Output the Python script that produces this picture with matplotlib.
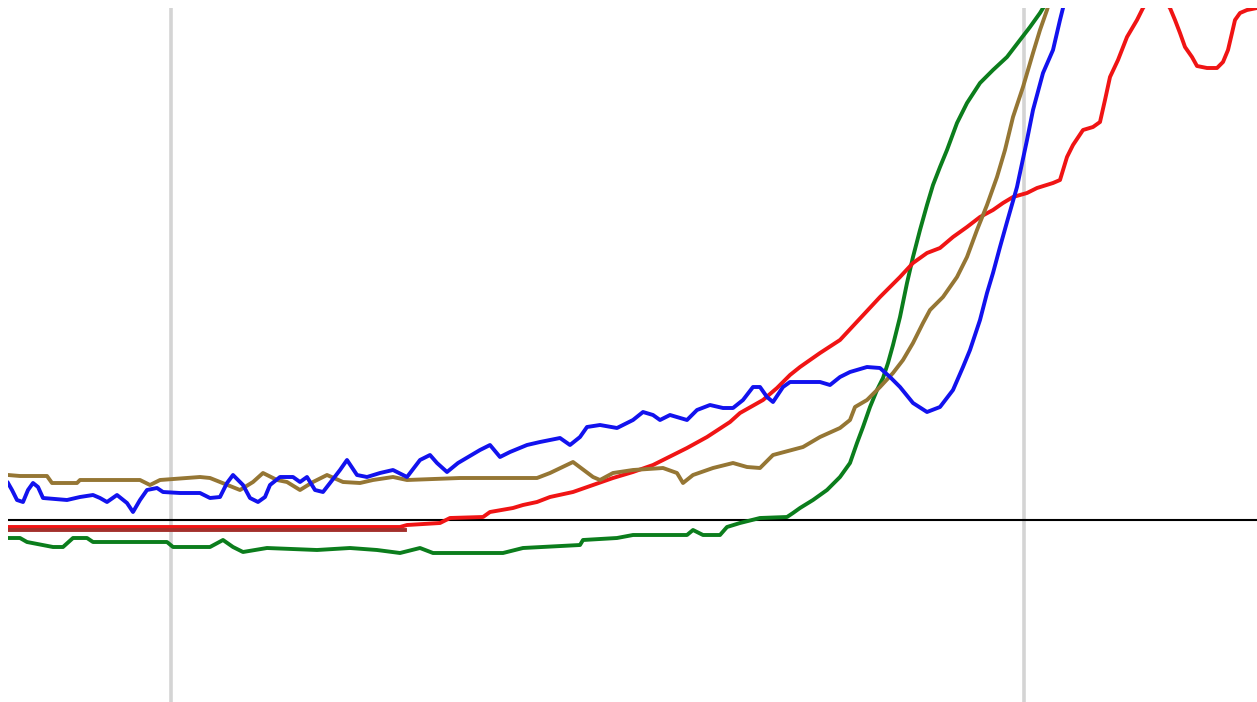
import matplotlib
matplotlib.use("Agg")
import matplotlib.pyplot as plt

# Series samples (x position, value relative to baseline)
blue_x = [8, 12, 17, 23, 28, 33, 38, 43, 67, 80, 93, 100, 107, 117, 127, 133, 140, 147, 157, 163,
          180, 200, 210, 220, 227, 233, 243, 250, 258, 265, 270, 280, 293, 300, 307, 315, 323, 330,
          340, 347, 357, 367, 380, 393, 407, 420, 430, 437, 447, 458, 480, 490, 500, 510, 527, 540,
          560, 570, 580, 587, 600, 617, 633, 643, 653, 660, 670, 687, 697, 710, 723, 733, 743, 753,
          760, 767, 773, 783, 790, 820, 830, 840, 850, 867, 880, 890, 900, 913, 927, 940, 953, 963,
          970, 980, 987, 993, 1000, 1007, 1017, 1027, 1033, 1043, 1053, 1060, 1065]
blue_y = [37, 30, 20, 18, 30, 37, 33, 22, 20, 23, 25, 22, 18, 25, 17, 8, 20, 30, 32, 28,
          27, 27, 22, 23, 37, 45, 35, 22, 18, 23, 35, 43, 43, 38, 43, 30, 28, 37,
          50, 60, 45, 43, 47, 50, 43, 60, 65, 57, 48, 57, 70, 75, 63, 68, 75, 78,
          82, 75, 83, 93, 95, 92, 100, 108, 105, 100, 105, 100, 110, 115, 112, 112, 120, 133,
          133, 123, 118, 133, 138, 138, 135, 143, 148, 153, 152, 143, 133, 117, 108, 113, 130, 153,
          170, 200, 227, 247, 273, 298, 333, 380, 410, 447, 470, 500, 520]

brown_x = [8, 20, 47, 52, 77, 80, 140, 150, 160, 200, 210, 240, 253, 263, 277, 287, 300, 313, 327,
           343, 360, 373, 393, 407, 460, 537, 550, 573, 593, 600, 613, 633, 663, 677, 683, 693, 713,
           733, 747, 760, 773, 803, 820, 840, 850, 855, 867, 880, 893, 903, 913, 923, 930, 943, 957,
           967, 977, 987, 997, 1005, 1013, 1023, 1033, 1040, 1047, 1050]
brown_y = [45, 44, 44, 37, 37, 40, 40, 35, 40, 43, 42, 30, 38, 47, 40, 38, 30, 38, 45,
           38, 37, 40, 43, 40, 42, 42, 47, 58, 43, 40, 47, 50, 52, 47, 37, 45, 52,
           57, 53, 52, 65, 73, 83, 92, 100, 113, 120, 133, 147, 160, 177, 197, 210, 223, 243,
           263, 290, 315, 343, 370, 403, 433, 467, 490, 510, 520]

red_x = [8, 400, 407, 440, 450, 483, 490, 513, 523, 537, 550, 573, 593, 613, 633, 653, 667, 687,
         707, 730, 740, 763, 777, 790, 800, 820, 840, 880, 890, 900, 913, 927, 940, 953, 967, 980,
         993, 1003, 1013, 1027, 1037, 1053, 1060, 1067, 1073, 1083, 1093, 1100, 1105, 1110, 1118,
         1127, 1137, 1143, 1156, 1170, 1175, 1180, 1185, 1192, 1197, 1207, 1217, 1223, 1228, 1232,
         1235, 1240, 1247, 1257]
red_y = [-7, -7, -5, -3, 2, 3, 8, 12, 15, 18, 23, 28, 35, 42, 48, 55, 62, 72,
         83, 98, 107, 120, 132, 145, 153, 167, 180, 223, 233, 243, 257, 267, 272, 283, 293, 303,
         310, 317, 323, 327, 332, 337, 340, 363, 375, 390, 393, 398, 420, 443, 460,
         483, 500, 512, 530, 512, 500, 487, 473, 463, 454, 452, 452, 458, 470, 487,
         500, 507, 510, 512]

maroon_x = [8, 405]
maroon_y = [-10, -10]

green_x = [8, 20, 27, 53, 63, 73, 87, 93, 167, 173, 210, 223, 233, 243, 267, 317, 350, 377, 400,
           420, 433, 503, 523, 580, 583, 617, 633, 687, 693, 703, 720, 727, 740, 760, 787, 793, 800,
           813, 827, 840, 850, 857, 863, 870, 877, 883, 888, 893, 900, 907, 913, 920, 927, 933, 940,
           947, 957, 967, 980, 993, 1007, 1020, 1030, 1040, 1048]
green_y = [-18, -18, -22, -27, -27, -18, -18, -22, -22, -27, -27, -20, -27, -32, -28, -30, -28, -30, -33,
           -28, -33, -33, -28, -25, -20, -18, -15, -15, -10, -15, -15, -7, -3, 2, 3, 7, 12,
           20, 30, 43, 57, 77, 93, 113, 130, 142, 157, 175, 203, 237, 263, 290, 315, 335, 353,
           370, 397, 417, 437, 450, 463, 480, 493, 507, 520]

ref_x = [171, 1024]
baseline = 0

fig = plt.figure(figsize=(12.57, 7.02), dpi=100)
ax = fig.add_axes([8 / 1257, 0, 1249 / 1257, 694 / 702])
ax.set_xlim(8, 1257)
ax.set_ylim(-182, 512)
ax.axis("off")

for xv in ref_x:
    ax.axvline(xv, color="#d4d4d4", lw=2.6, zorder=1)
ax.axhline(baseline, color="black", lw=1.5, zorder=2)

lw = 2.8
ax.plot(green_x, green_y, color="#0b7d1c", lw=lw, zorder=3)
ax.plot(red_x, red_y, color="#f01414", lw=lw, zorder=4)
ax.plot(maroon_x, maroon_y, color="#a3302c", lw=lw, zorder=4)
ax.plot(brown_x, brown_y, color="#957634", lw=lw, zorder=5)
ax.plot(blue_x, blue_y, color="#1212ee", lw=lw, zorder=6)

fig.savefig("out.png", dpi=100, facecolor="white")
